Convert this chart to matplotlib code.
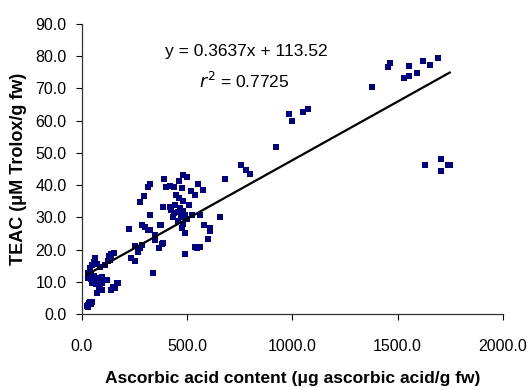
import numpy as np
import matplotlib
matplotlib.use('Agg')
import matplotlib.pyplot as plt

plt.rcParams['font.family'] = ['Liberation Sans', 'DejaVu Sans']

# ascorbic acid (ug/g fw) vs TEAC (uM Trolox/g fw)
ascorbic = [
    22, 28, 33, 38, 45, 30, 50,
    63, 56, 48, 70, 38, 86, 110, 62,
    30, 42, 55, 30, 45, 70, 94, 109, 95, 117, 86,
    46, 79, 88, 95, 71, 65,
    127, 140, 151, 133, 125, 140,
    148, 157, 167, 172, 140,
    225, 232, 252, 252, 268, 275, 284, 276, 295, 284, 298, 316, 324, 337,
    348, 348, 368, 379, 384, 375, 371,
    316, 324, 390, 400, 419, 438, 459, 475, 482, 498, 448, 459, 482, 517,
    538, 554, 575, 511, 384, 419, 443,
    422, 438, 457, 479, 432, 470, 490, 522, 559, 657, 681, 482, 475, 490,
    578, 610, 610, 597, 538, 562, 548, 490, 324, 756, 779, 800, 455, 500, 465,
    922, 984, 999, 1051, 1075, 1381, 1456, 1464, 1533, 1556, 1556, 1594,
    1622, 1652, 1690, 1630, 1706, 1706, 1741, 1748,
]
teac = [
    2.4, 2.9, 3.3, 3.6, 3.0, 2.2, 3.7,
    16.8, 16.0, 15.2, 15.4, 14.2, 14.7, 15.2, 17.3,
    12.6, 12.6, 11.8, 11.3, 11.0, 11.2, 11.6, 10.6, 9.7, 10.6, 11.2,
    9.5, 8.5, 8.0, 7.6, 6.4, 9.2,
    18.0, 18.6, 19.0, 16.8, 16.5, 17.5,
    8.5, 8.0, 9.5, 9.6, 7.6,
    26.5, 17.3, 16.5, 21.1, 19.3, 20.5, 21.4, 34.9, 36.6, 27.6, 27.0, 26.1, 30.7, 12.6,
    23.0, 24.5, 20.4, 21.7, 21.9, 27.6, 27.6,
    39.3, 40.3, 41.8, 39.3, 39.8, 39.5, 41.4, 39.0, 43.1, 42.4, 36.9, 35.9, 35.2, 38.3,
    36.9, 40.3, 38.5, 33.8, 33.2, 33.2, 33.8,
    32.3, 31.4, 31.6, 31.9, 30.0, 30.2, 30.7, 30.7, 30.7, 30.2, 41.8, 27.9, 26.8, 25.0,
    27.6, 26.8, 25.9, 23.3, 20.7, 20.7, 20.5, 18.6, 26.0, 46.2, 44.7, 43.4, 29.0, 29.5, 33.0,
    51.9, 62.1, 59.9, 62.7, 63.6, 70.6, 76.5, 78.0, 73.1, 73.8, 77.0, 74.8,
    78.5, 77.4, 79.6, 46.1, 48.2, 44.5, 46.1, 46.1,
]

# linear trendline as drawn on the chart
slope = 0.03637
intercept = 11.352
eq_text = 'y = 0.3637x + 113.52'
r2_text = '$r^2$ = 0.7725'

fig = plt.figure(figsize=(5.32, 3.87), dpi=100)
ax = fig.add_axes([0.154, 0.1886, 0.791, 0.7494])

ax.plot(ascorbic, teac, 's', color='#000080', markersize=4.3, markeredgewidth=0)

xs = np.linspace(min(ascorbic), max(ascorbic), 50)
ax.plot(xs, slope * xs + intercept, color='black', linewidth=1.6)

ax.set_xlim(0, 2000)
ax.set_ylim(0, 90)
ax.set_xticks(np.arange(0, 2001, 500))
ax.set_yticks(np.arange(0, 91, 10))
ax.xaxis.set_major_formatter(matplotlib.ticker.FormatStrFormatter('%.1f'))
ax.yaxis.set_major_formatter(matplotlib.ticker.FormatStrFormatter('%.1f'))
ax.tick_params(axis='x', direction='out', length=4, width=0.8, pad=14, labelsize=11.5, colors='black')
ax.tick_params(axis='y', direction='out', length=4, width=0.8, pad=7, labelsize=11.5, colors='black')

for s in ['top', 'right']:
    ax.spines[s].set_visible(False)
for s in ['left', 'bottom']:
    ax.spines[s].set_color('#333333')
    ax.spines[s].set_linewidth(0.9)

ax.set_xlabel('Ascorbic acid content (μg ascorbic acid/g fw)', fontsize=12.5, fontweight='bold', labelpad=12)
ax.set_ylabel('TEAC (μM Trolox/g fw)', fontsize=13, fontweight='bold', labelpad=6)

ax.text(780, 81.5, eq_text, fontsize=12.5, ha='center', va='center')
ax.text(770, 72.2, r2_text, fontsize=12.5, ha='center', va='center')

fig.savefig('out.png', dpi=100)
